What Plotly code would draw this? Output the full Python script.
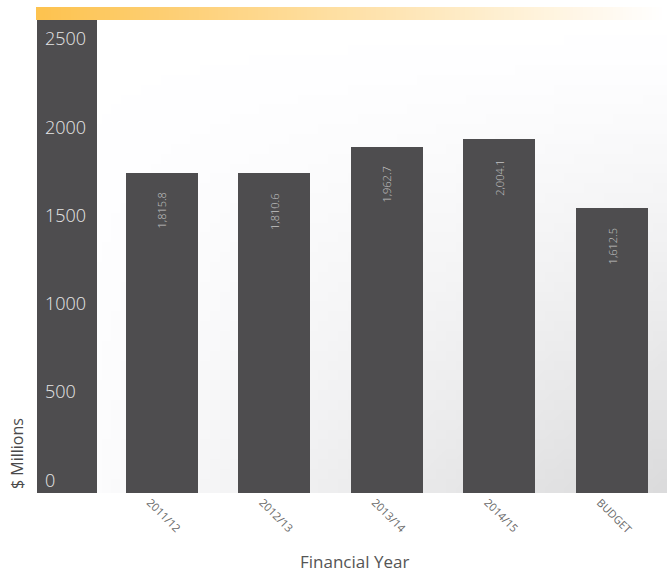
import base64
import struct
import zlib

import plotly.graph_objects as go

# Annual totals in $ millions
years = ["2011/12", "2012/13", "2013/14", "2014/15", "BUDGET"]
totals = [1815.8, 1810.6, 1962.7, 2004.1, 1612.5]
y_ticks = [0, 500, 1000, 1500, 2000, 2500]

W, H = 667, 573
M_L, M_R, M_T, M_B = 37, 0, 20, 80
PLOT_W = W - M_L - M_R
PLOT_H = H - M_T - M_B

BAR_COLOR = "#4e4d4f"
FONT = "Open Sans"


def png_uri(w, h, pixel):
    """Encode a tiny RGB PNG as a data URI; pixel(x, y) -> (r, g, b)."""
    raw = bytearray()
    for y in range(h):
        raw.append(0)
        for x in range(w):
            raw.extend(bytes(pixel(x, y)))

    def chunk(tag, data):
        c = tag + data
        return struct.pack(">I", len(data)) + c + struct.pack(">I", zlib.crc32(c) & 0xFFFFFFFF)

    png = b"\x89PNG\r\n\x1a\n"
    png += chunk(b"IHDR", struct.pack(">IIBBBBB", w, h, 8, 2, 0, 0, 0))
    png += chunk(b"IDAT", zlib.compress(bytes(raw), 9))
    png += chunk(b"IEND", b"")
    return "data:image/png;base64," + base64.b64encode(png).decode()


# soft grey wash darkening toward the lower right
GW, GH = 64, 48


def bg_pixel(x, y):
    xn = x / (GW - 1)
    yn = y / (GH - 1)
    d = 36 * xn * (yn ** 1.3)
    v = int(round(255 - d))
    return (v, v, min(255, v + 1))


# orange accent strip fading to white
OW = 64


def strip_pixel(x, y):
    t = x / (OW - 1)
    a = (253, 195, 80)
    return tuple(int(round(a[i] + (255 - a[i]) * t)) for i in range(3))


fig = go.Figure()

fig.add_trace(
    go.Bar(
        x=list(range(len(years))),
        y=totals,
        width=0.64,
        marker=dict(color=BAR_COLOR, line=dict(width=0)),
        hoverinfo="skip",
    )
)

# rotated value labels near the top of each bar
for i, v in enumerate(totals):
    fig.add_annotation(
        x=i,
        y=v,
        xref="x",
        yref="y",
        text=f"{v:,.1f}",
        textangle=-90,
        showarrow=False,
        xanchor="center",
        yanchor="middle",
        yshift=-38,
        font=dict(family=FONT, size=11, color="#c4c4c4", weight=300),
    )

# axis titles
fig.add_annotation(
    x=(17 - M_L) / PLOT_W,
    y=(493 - 454) / PLOT_H,
    xref="paper",
    yref="paper",
    text="$ Millions",
    textangle=-90,
    showarrow=False,
    xanchor="center",
    yanchor="middle",
    font=dict(family=FONT, size=16, color="#4a4a4a"),
)
fig.add_annotation(
    x=(354 - M_L) / PLOT_W,
    y=(493 - 561) / PLOT_H,
    xref="paper",
    yref="paper",
    text="Financial Year",
    showarrow=False,
    xanchor="center",
    yanchor="middle",
    font=dict(family=FONT, size=17, color="#555555"),
)

# dark band behind the value axis
band_w = (97 - M_L) / PLOT_W
fig.add_shape(
    type="rect",
    xref="paper",
    yref="paper",
    x0=0,
    x1=band_w,
    y0=0,
    y1=1,
    fillcolor=BAR_COLOR,
    line=dict(width=0),
    layer="below",
)

fig.update_layout(
    width=W,
    height=H,
    margin=dict(l=M_L, r=M_R, t=M_T, b=M_B),
    paper_bgcolor="white",
    plot_bgcolor="rgba(0,0,0,0)",
    showlegend=False,
    bargap=0,
    images=[
        dict(
            source=png_uri(GW, GH, bg_pixel),
            xref="paper",
            yref="paper",
            x=0,
            y=1,
            sizex=1,
            sizey=1,
            sizing="stretch",
            xanchor="left",
            yanchor="top",
            layer="below",
        ),
        dict(
            source=png_uri(OW, 1, strip_pixel),
            xref="paper",
            yref="paper",
            x=-1 / PLOT_W,
            y=1 + 13 / PLOT_H,
            sizex=1 + 1 / PLOT_W,
            sizey=13 / PLOT_H,
            sizing="stretch",
            xanchor="left",
            yanchor="top",
            layer="above",
        ),
    ],
    xaxis=dict(
        tickmode="array",
        tickvals=list(range(len(years))),
        ticktext=years,
        tickangle=45,
        ticklabelshift=-12,
        range=[-1.111, 4.489],
        showgrid=False,
        zeroline=False,
        showline=False,
        ticks="",
        tickfont=dict(family=FONT, size=11, color="#6a6a6a"),
    ),
    yaxis=dict(
        range=[0, 2680],
        tickvals=y_ticks,
        ticklabelposition="inside top",
        ticklabelstandoff=5,
        showgrid=False,
        zeroline=False,
        showline=False,
        ticks="",
        tickfont=dict(family=FONT, size=18, color="#e6e6e6", weight=300),
    ),
)

fig.write_html("out.html")
